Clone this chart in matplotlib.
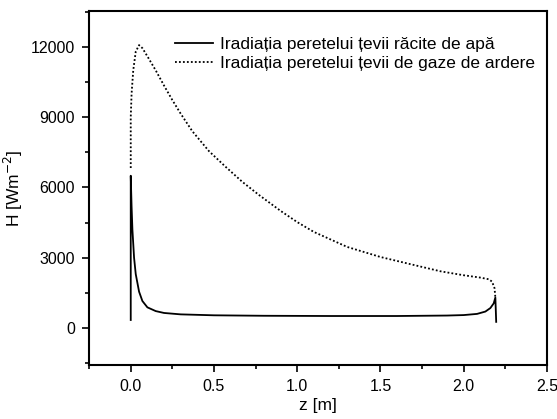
import matplotlib.pyplot as plt
from matplotlib.ticker import MultipleLocator

plt.rcParams['font.family'] = ['Liberation Sans', 'DejaVu Sans']

# --- data ---
z_water = [0.0, 0.0, 0.005, 0.01, 0.02, 0.03, 0.05, 0.07, 0.10, 0.15, 0.20, 0.30,
           0.50, 0.80, 1.20, 1.60, 1.90, 2.00, 2.08, 2.13, 2.16, 2.18, 2.19, 2.195]
h_water = [340, 6500, 5200, 4200, 3000, 2300, 1550, 1150, 880, 720, 640, 580,
           540, 520, 510, 510, 530, 550, 600, 700, 850, 1050, 1300, 260]

z_gas = [0.0, 0.0, 0.005, 0.015, 0.03, 0.05, 0.07, 0.10, 0.15, 0.20, 0.25, 0.30,
         0.37, 0.47, 0.57, 0.67, 0.77, 0.90, 1.00, 1.10, 1.30, 1.50, 1.70, 1.86,
         2.00, 2.10, 2.15, 2.17, 2.185, 2.19]
h_gas = [6830, 9000, 10000, 11000, 11800, 12080, 11950, 11600, 11000, 10350, 9730, 9150,
         8400, 7550, 6880, 6240, 5680, 5000, 4520, 4100, 3460, 3030, 2690, 2420,
         2250, 2150, 2080, 1980, 1700, 1300]

label_water = "Iradiația peretelui țevii răcite de apă"
label_gas = "Iradiația peretelui țevii de gaze de ardere"

fig = plt.figure(figsize=(5.57, 4.19), dpi=100)
ax = fig.add_axes([0.160, 0.129, 0.822, 0.845])

ax.plot(z_water, h_water, color="black", lw=1.3, label=label_water)
ax.plot(z_gas, h_gas, color="black", lw=1.3, linestyle=(0, (1, 1.2)), label=label_gas)

ax.set_xlim(-0.25, 2.5)
ax.set_ylim(-1580, 13540)
ax.xaxis.set_minor_locator(MultipleLocator(0.25))
ax.yaxis.set_major_locator(MultipleLocator(3000))
ax.yaxis.set_minor_locator(MultipleLocator(1500))
ax.set_xticks([0.0, 0.5, 1.0, 1.5, 2.0, 2.5])
ax.set_xticklabels(["0.0", "0.5", "1.0", "1.5", "2.0", "2.5"])

ax.tick_params(which="both", direction="out", top=False, right=False, labelsize=11.5, width=1.2)
ax.tick_params(which="major", length=5, pad=5)
ax.tick_params(which="minor", length=3)
for s in ax.spines.values():
    s.set_linewidth(1.5)

ax.set_xlabel("z [m]", fontsize=12.5, labelpad=3)
ax.set_ylabel(r"H [Wm$^{-2}$]", fontsize=12.5, labelpad=4)

ax.legend(loc="upper right", frameon=False, fontsize=12.5, handlelength=2.2,
          handletextpad=0.4, labelspacing=0.2, borderaxespad=0.3,
          bbox_to_anchor=(1.0, 0.96))

fig.savefig("out.png", dpi=100)
